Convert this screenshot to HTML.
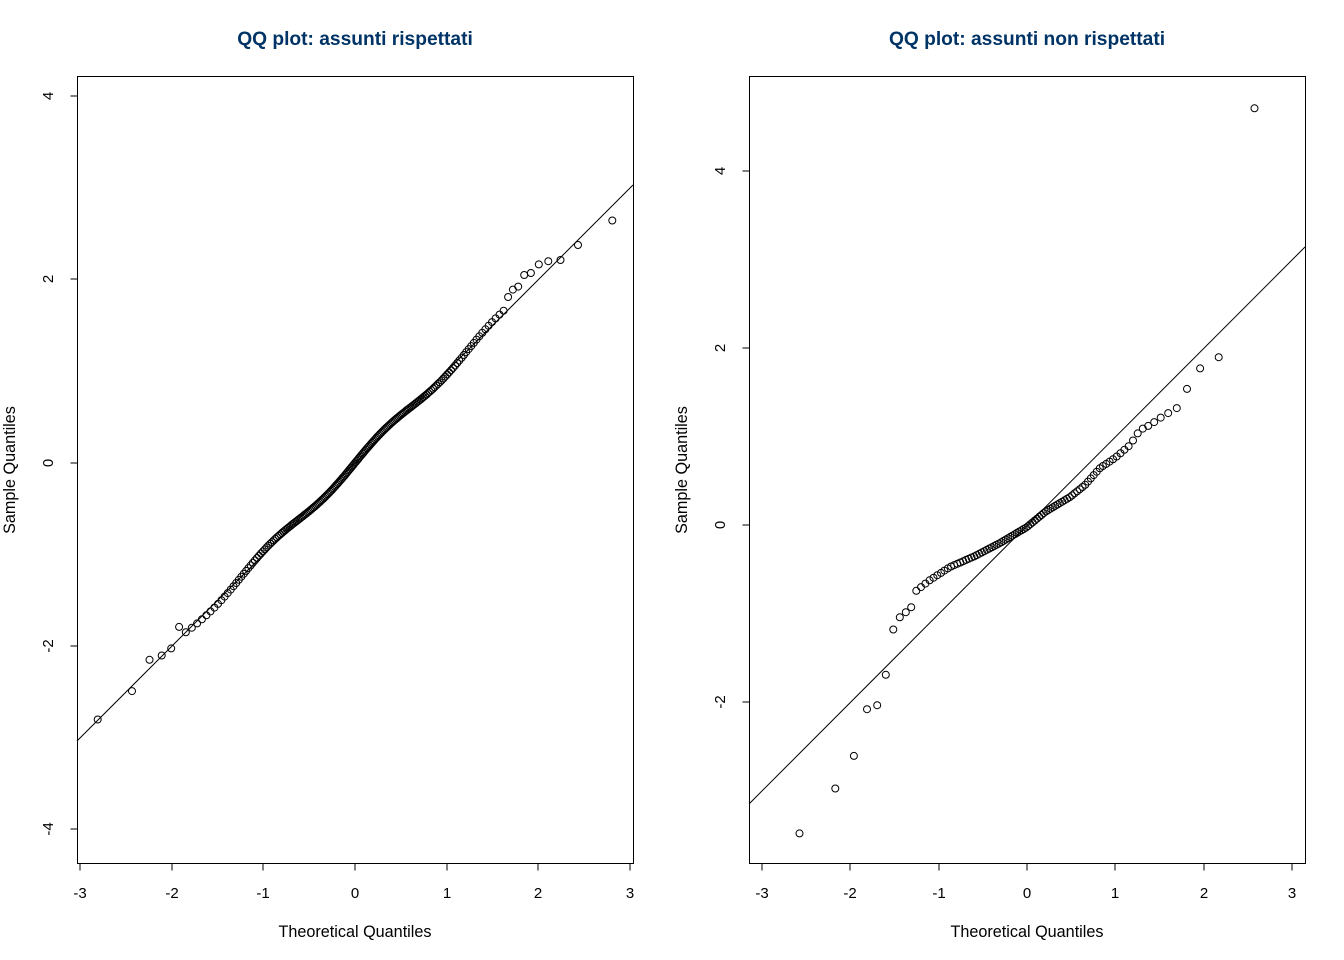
<!DOCTYPE html>
<html><head><meta charset="utf-8"><style>
html,body{margin:0;padding:0;background:#fff}
svg{display:block;font-family:"Liberation Sans",sans-serif}
</style></head><body>
<svg id="s" width="1344" height="960" xmlns="http://www.w3.org/2000/svg">
<rect width="1344" height="960" fill="#fff"/>
<g fill="#003366" font-weight="bold" font-size="19.2" text-anchor="middle">
<text x="355" y="45">QQ plot: assunti rispettati</text>
<text x="1027" y="45">QQ plot: assunti non rispettati</text>
</g>
<g fill="none" stroke="#000" stroke-width="1">
<rect x="77.5" y="76.5" width="556" height="787"/>
<rect x="749.5" y="76.5" width="556" height="787"/>
<path d="M80 863.5H630M80 863.5v7M172 863.5v7M263 863.5v7M355 863.5v7M447 863.5v7M538 863.5v7M630 863.5v7"/>
<path d="M762 863.5H1292M762 863.5v7M850 863.5v7M939 863.5v7M1027 863.5v7M1115 863.5v7M1204 863.5v7M1292 863.5v7"/>
<path d="M77.5 96V829M77.5 96h-7M77.5 279h-7M77.5 463h-7M77.5 646h-7M77.5 829h-7"/>
<path d="M749.5 171V702M749.5 171h-7M749.5 348h-7M749.5 525h-7M749.5 702h-7"/>
<path d="M77 741L633 185"/>
<path d="M749 804L1305 247"/>
</g>
<g font-size="15" fill="#000" text-anchor="middle">
<text x="80" y="898">-3</text><text x="172" y="898">-2</text><text x="263" y="898">-1</text><text x="355" y="898">0</text><text x="447" y="898">1</text><text x="538" y="898">2</text><text x="630" y="898">3</text>
<text x="762" y="898">-3</text><text x="850" y="898">-2</text><text x="939" y="898">-1</text><text x="1027" y="898">0</text><text x="1115" y="898">1</text><text x="1204" y="898">2</text><text x="1292" y="898">3</text>
<text transform="translate(53,96) rotate(-90)">4</text>
<text transform="translate(53,279) rotate(-90)">2</text>
<text transform="translate(53,463) rotate(-90)">0</text>
<text transform="translate(53,646) rotate(-90)">-2</text>
<text transform="translate(53,829) rotate(-90)">-4</text>
<text transform="translate(725,171) rotate(-90)">4</text>
<text transform="translate(725,348) rotate(-90)">2</text>
<text transform="translate(725,525) rotate(-90)">0</text>
<text transform="translate(725,702) rotate(-90)">-2</text>
</g>
<g font-size="16.2" fill="#000" text-anchor="middle">
<text x="355" y="937">Theoretical Quantiles</text>
<text x="1027" y="937">Theoretical Quantiles</text>
<text transform="translate(15,470) rotate(-90)">Sample Quantiles</text>
<text transform="translate(687,470) rotate(-90)">Sample Quantiles</text>
</g>
<g id="pts" fill="none" stroke="#000" stroke-width="1"></g>
</svg>
<script>
function qn(p){var a=[-39.69683028665376,220.9460984245205,-275.9285104469687,138.357751867269,-30.66479806614716,2.506628277459239],b=[-54.47609879822406,161.5858368580409,-155.6989798598866,66.80131188771972,-13.28068155288572],c=[-0.007784894002430293,-0.3223964580411365,-2.400758277161838,-2.549732539343734,4.374664141464968,2.938163982698783],d=[0.007784695709041462,0.3224671290700398,2.445134137142996,3.754408661907416];var q,r;if(p<0.02425){q=Math.sqrt(-2*Math.log(p));return(((((c[0]*q+c[1])*q+c[2])*q+c[3])*q+c[4])*q+c[5])/((((d[0]*q+d[1])*q+d[2])*q+d[3])*q+1);}if(p>1-0.02425){q=Math.sqrt(-2*Math.log(1-p));return-(((((c[0]*q+c[1])*q+c[2])*q+c[3])*q+c[4])*q+c[5])/((((d[0]*q+d[1])*q+d[2])*q+d[3])*q+1);}q=p-0.5;r=q*q;return(((((a[0]*r+a[1])*r+a[2])*r+a[3])*r+a[4])*r+a[5])*q/(((((b[0]*r+b[1])*r+b[2])*r+b[3])*r+b[4])*r+1);}
function interp(A,x){if(x<=A[0][0])return A[0][1];for(var i=1;i<A.length;i++){if(x<=A[i][0]){var t=(x-A[i-1][0])/(A[i][0]-A[i-1][0]);return A[i-1][1]+t*(A[i][1]-A[i-1][1]);}}return A[A.length-1][1];}
var g=document.getElementById('pts'),h='';
function c(x,y){h+='<circle cx="'+x.toFixed(1)+'" cy="'+y.toFixed(1)+'" r="3.5"/>';}
var LA=[[97,720],[131,693],[149,660],[161,656],[171,649],[179,627],[200,607],[230,590],[260,560],[290,520],[320,495],[340,475],[355,463],[380,445],[410,405],[440,376],[470,345],[495,320],[512,290],[518,287],[524,275],[531,273],[540,263],[549,261],[561,260],[578,245],[613,220]];
for(var i=1;i<=200;i++){var x=355+91.67*qn((i-0.5)/200);var base=741-(x-77);var y=interp(LA,x);if(x>185&&x<505){y=base+4*Math.sin((x-185)/18);}c(x,y);}
var RA=[[799,834],[835,789],[853,759],[867,709],[877,706],[885,680],[893,630],[900,617],[906,612],[911,608],[916,591],[930,580],[950,567],[975,556],[1000,543],[1027,527],[1045,512],[1070,497],[1085,485],[1100,468],[1115,458],[1130,445],[1140,430],[1150,425],[1160,418],[1170,412],[1177,408],[1187,389],[1201,367],[1219,357],[1255,105]];
for(var i=1;i<=100;i++){var x=1027+88.33*qn((i-0.5)/100);c(x,interp(RA,x));}
g.innerHTML=h;
</script>
</body></html>
